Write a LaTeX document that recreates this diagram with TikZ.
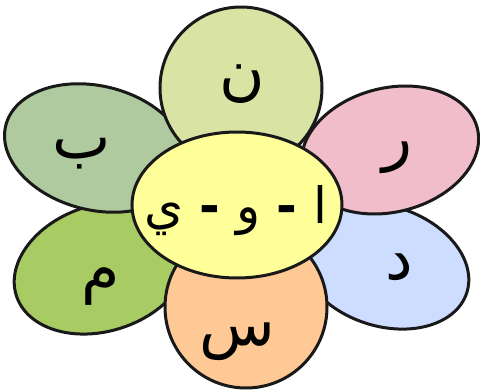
\documentclass[tikz,border=0pt]{standalone}
\usepackage{fontspec}
\newfontfamily\arabicfont[Script=Arabic]{DejaVu Sans}
\TeXXeTstate=1
\definecolor{petalN}{HTML}{D9E4A4}
\definecolor{petalB}{HTML}{AECA9E}
\definecolor{petalR}{HTML}{F2BDCB}
\definecolor{petalM}{HTML}{A9CB64}
\definecolor{petalD}{HTML}{CCDDFF}
\definecolor{petalS}{HTML}{FFC995}
\definecolor{heart}{HTML}{FFFF99}

\begin{document}
\begin{tikzpicture}[x=1pt, y=-1pt]
        \tikzset{
            petal/.style={draw=black!90, line width=3pt},
            letter/.style={font=\arabicfont\fontsize{62}{62}\selectfont, inner sep=0pt},
            vowels/.style={font=\arabicfont\fontsize{50}{50}\selectfont, inner sep=0pt}
        }
        \useasboundingbox (0,0) rectangle (480,391);

        % side petals (lower ones first)
        \draw [petal, fill=petalM, shift={(102,268)}, rotate=18] (0,0) ellipse [x radius=90, y radius=63];
        \draw [petal, fill=petalD, shift={(384,266)}, rotate=-18] (0,0) ellipse [x radius=87, y radius=60];
        \draw [petal, fill=petalB, shift={(96,148)}, rotate=-14] (0,0) ellipse [x radius=93, y radius=62];
        \draw [petal, fill=petalR, shift={(390,150)}, rotate=14] (0,0) ellipse [x radius=90, y radius=62];

        % top and bottom petals
        \draw [petal, fill=petalN] (241,88) circle [radius=81];
        \draw [petal, fill=petalS] (246,307) circle [radius=81];

        % heart of the flower
        \draw [petal, fill=heart] (237,205) ellipse [x radius=105, y radius=73];

        % letters
        \node [letter] (nun) at (242,84) {\beginR ن\endR};
        \node [letter] (ba) at (82,154) {\beginR ب\endR};
        \node [letter] (ra) at (397,158) {\beginR ر\endR};
        \node [letter] (mim) at (101,287) {\beginR م\endR};
        \node [letter] (dal) at (399,267) {\beginR د\endR};
        \node [letter] (sin) at (237,342) {\beginR س\endR};
        \node [vowels] (middle) at (236,211) {\beginR ا {\bfseries -} و {\bfseries -} ي\endR};
\end{tikzpicture}
\end{document}
